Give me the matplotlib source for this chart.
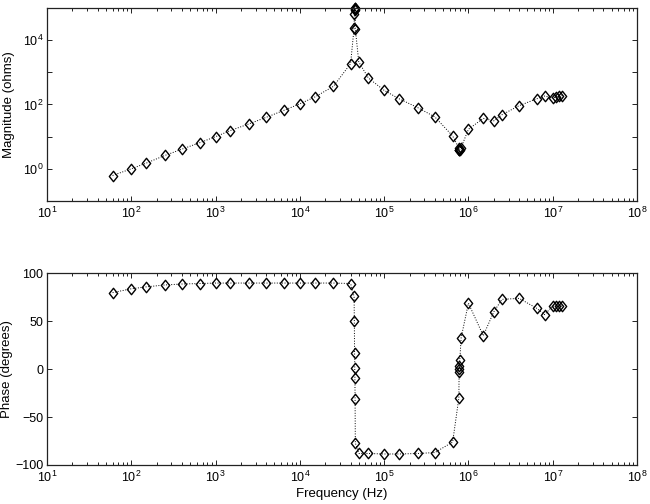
import matplotlib
matplotlib.use("Agg")
import matplotlib.pyplot as plt
import numpy as np
from matplotlib.path import Path
from matplotlib.ticker import NullFormatter, FixedLocator, FuncFormatter

plt.rcParams['font.family'] = ['Liberation Sans', 'DejaVu Sans']
plt.rcParams['mathtext.fontset'] = 'custom'
plt.rcParams['mathtext.rm'] = 'Liberation Sans'
plt.rcParams['mathtext.it'] = 'Liberation Sans:italic'

freq = [60, 100, 150, 250, 400, 650, 1000, 1500, 2500, 4000, 6500, 10000, 15000,
        25000, 40000, 44000, 44300, 44600, 44800, 45000, 45200, 45500, 50000,
        65000, 100000, 150000, 250000, 400000, 650000, 770000, 775000, 778000,
        781000, 790000, 820000, 1000000, 1500000, 2000000, 2500000, 4000000,
        6500000, 8000000, 10000000, 11000000, 12000000, 13000000]
magnitude = [0.62, 1.0, 1.5, 2.6, 4.1, 6.5, 10, 15.5, 25, 40, 66, 105, 170,
             365, 1860, 24000, 64000, 96000, 100000, 99000, 86000, 22500, 2100,
             665, 275, 151, 80, 41, 10.5, 4.4, 3.8, 3.8, 3.8, 3.9, 4.6,
             17, 37, 31, 48, 92, 151, 183, 160, 172, 182, 190]
phase = [80, 84, 86, 88, 89, 89.5, 90, 90, 90, 90, 90, 90, 90,
         90, 89.5, 76, 50, 17, 1, -9, -31, -77, -88,
         -88, -88.5, -88.5, -88, -87, -76, -30, -3, 0, 3, 10, 33,
         69, 35, 60, 73, 74, 63.5, 57, 66, 66, 66, 66]

diamond = Path([(0, 1), (0.8, 0), (0, -1), (-0.8, 0), (0, 1)],
               [Path.MOVETO, Path.LINETO, Path.LINETO, Path.LINETO, Path.CLOSEPOLY])

fig = plt.figure(figsize=(6.5, 5.04), dpi=100)
ax1 = fig.add_axes([0.0723, 0.6012, 0.9077, 0.383])
ax2 = fig.add_axes([0.0723, 0.0774, 0.9077, 0.380])

style = dict(color='black', linestyle=':', linewidth=0.7, marker=diamond,
             markersize=7.5, markerfacecolor='none', markeredgecolor='black',
             markeredgewidth=1.0, clip_on=False)

ax1.loglog(freq, magnitude, **style)
ax2.semilogx(freq, phase, **style)

ax1.set_ylim(1e-1, 1e5)
ax1.yaxis.set_major_locator(FixedLocator([10.0 ** k for k in range(-1, 6)]))
ax1.yaxis.set_major_formatter(FuncFormatter(
    lambda v, p: r'$10^{%d}$' % round(np.log10(v)) if round(np.log10(v)) in (0, 2, 4) else ''))
ax1.yaxis.set_minor_locator(FixedLocator([]))
ax1.set_ylabel('Magnitude (ohms)', fontsize=9.5)
ax1.yaxis.set_label_coords(-0.054, 0.5)

ax2.set_ylim(-100, 100)
ax2.set_yticks([-100, -50, 0, 50, 100])
ax2.set_yticklabels(['\u2212100', '\u221250', '0', '50', '100'])
ax2.set_ylabel('Phase (degrees)', fontsize=9.5)
ax2.yaxis.set_label_coords(-0.058, 0.5)
ax2.set_xlabel('Frequency (Hz)', fontsize=9.5, labelpad=2)

decades = [10.0 ** k for k in range(1, 9)]
minors = [m * 10.0 ** k for k in range(1, 8) for m in range(2, 10)]

for ax in (ax1, ax2):
    ax.set_xlim(1e1, 1e8)
    ax.xaxis.set_major_locator(FixedLocator(decades))
    ax.xaxis.set_major_formatter(FuncFormatter(
        lambda v, p: r'$10^{%d}$' % round(np.log10(v))))
    ax.xaxis.set_minor_locator(FixedLocator(minors))
    ax.xaxis.set_minor_formatter(NullFormatter())
    ax.tick_params(which='both', direction='in', top=True, right=True,
                   labelsize=9, width=0.7, color='#222222')
    ax.tick_params(which='major', length=3.5)
    ax.tick_params(which='minor', length=2)
    ax.tick_params(axis='y', pad=2.5)
    for s in ax.spines.values():
        s.set_linewidth(0.9)
        s.set_color('#222222')

fig.savefig('out.png', dpi=100)
